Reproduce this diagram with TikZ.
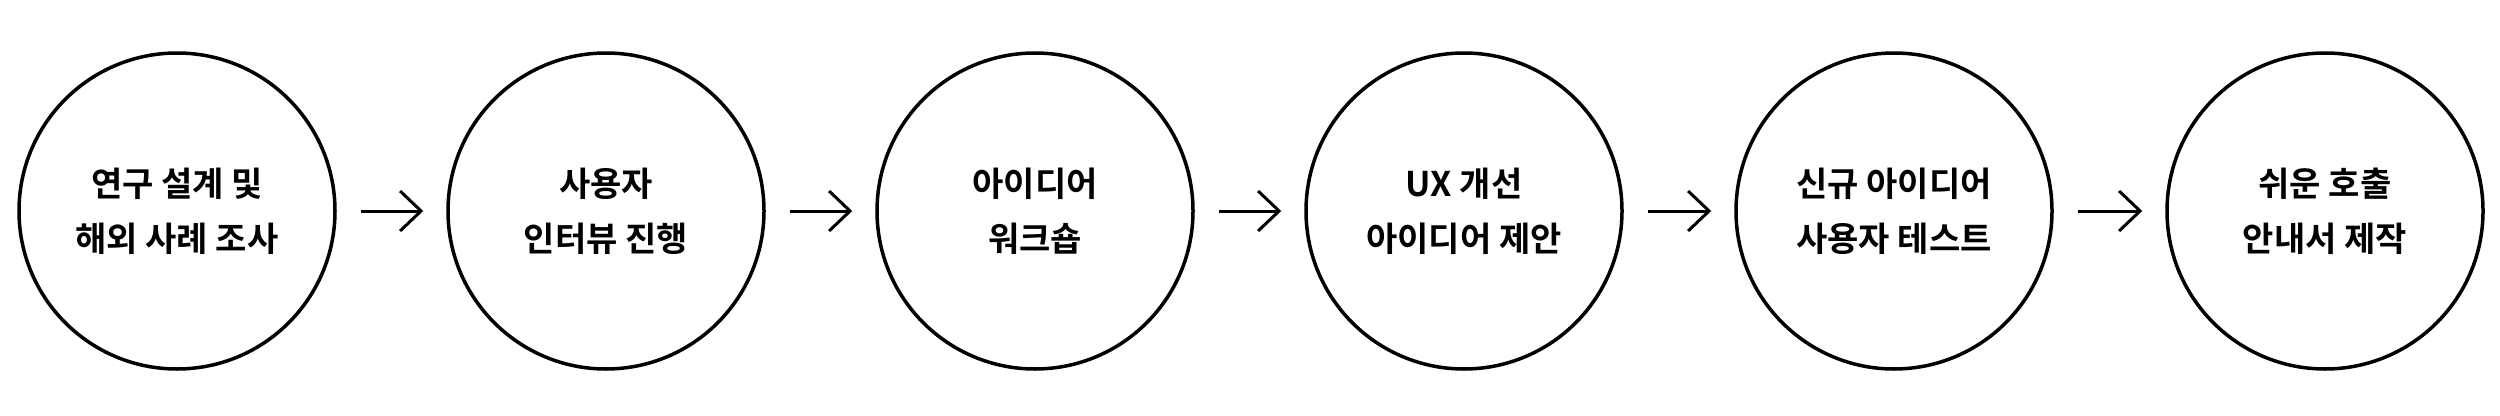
\documentclass[tikz,border=0pt]{standalone}
\usepackage{fontspec}
\setmainfont{Noto Sans CJK KR}[BoldFont={Noto Sans CJK KR Bold}]
\usetikzlibrary{arrows.meta}
\begin{document}
\begin{tikzpicture}[x=1pt,y=-1pt,
  stage/.style={circle,draw=black,line width=3.5pt,minimum size=316pt,inner sep=0pt,
    align=center,font=\fontsize{34}{55}\selectfont\bfseries},
  flow/.style={line width=3pt,-{Straight Barb[length=21pt,width=40pt,line width=3pt]}}]
\useasboundingbox (0,0) rectangle (2500,415);
\node[stage] (c1) at (177,211) {연구 설계 및\\해외 사례 조사};
\node[stage] (c2) at (606,211) {사용자\\인터뷰 진행};
\node[stage] (c3) at (1035,211) {아이디어\\워크숍};
\node[stage] (c4) at (1464,211) {UX 개선\\아이디어 제안};
\node[stage] (c5) at (1894,211) {신규 아이디어\\사용자 테스트};
\node[stage] (c6) at (2325,211) {쉬운 호출\\안내서 제작};
\foreach \a/\b in {c1/c2,c2/c3,c3/c4,c4/c5,c5/c6}
  \draw[flow] ([xshift=24pt]\a.east) -- ([xshift=-23pt]\b.west);
\end{tikzpicture}
\end{document}
